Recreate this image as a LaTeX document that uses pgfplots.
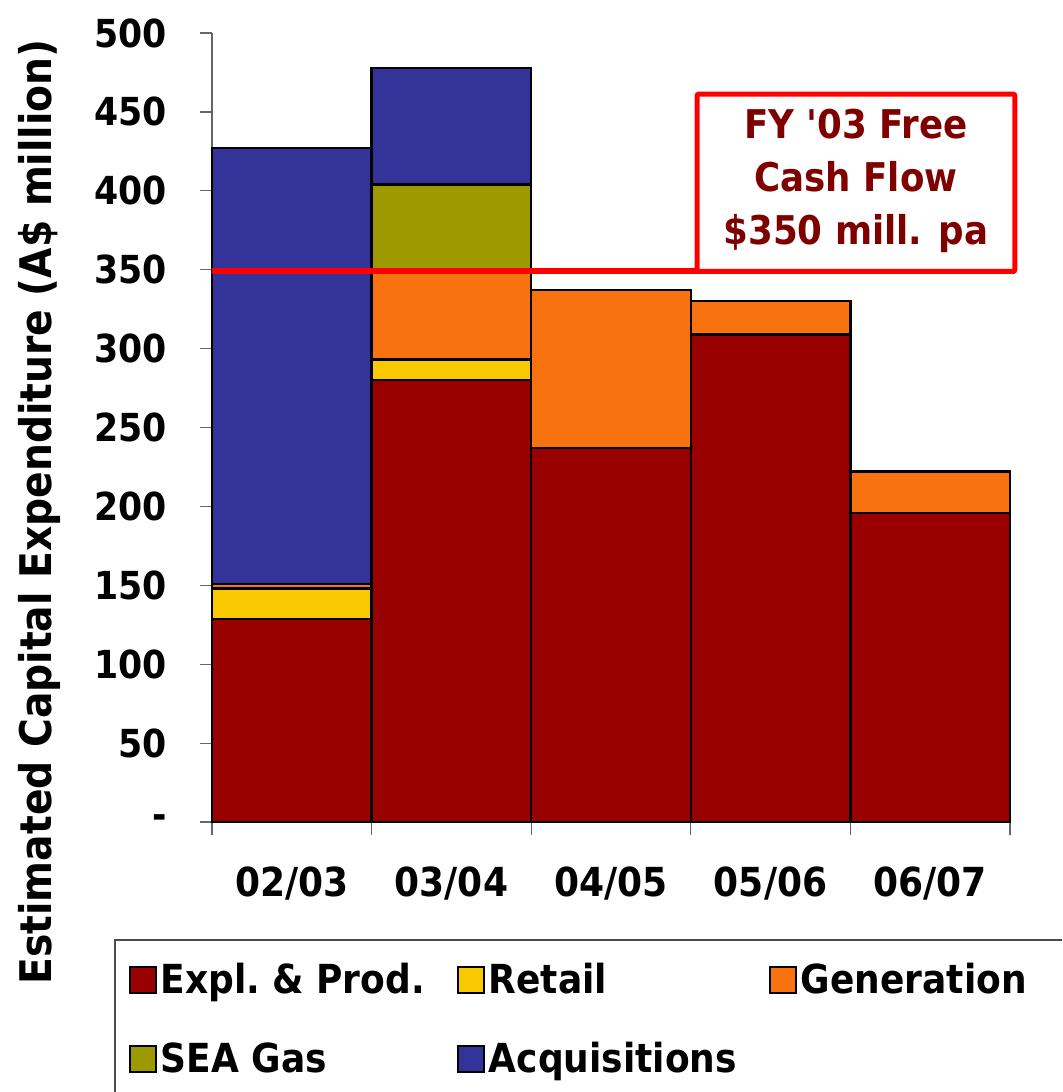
\documentclass[border=0pt]{standalone}
\usepackage{pgfplots}
\pgfplotsset{compat=1.18}
\usepackage{fontspec}
\setmainfont{DejaVu Sans Condensed}
\definecolor{expl}{HTML}{990000}
\definecolor{retail}{HTML}{F8C800}
\definecolor{gen}{HTML}{F87310}
\definecolor{sea}{HTML}{9D9A00}
\definecolor{acq}{HTML}{333399}
\definecolor{boxtext}{HTML}{800000}
\begin{document}
\begin{tikzpicture}
\clip (-106pt,-135pt) rectangle (425pt,411pt);
\fill[white] (-106pt,-135pt) rectangle (425pt,411pt);
\begin{axis}[
  scale only axis,
  width=399pt, height=394.5pt,
  at={(0,0)}, anchor=south west,
  ybar stacked, bar width=1,
  xmin=-0.5, xmax=4.5, ymin=0, ymax=500,
  clip=false,
  axis x line*=bottom, axis y line*=left,
  axis line style={-, black!60, line width=0.8pt},
  xtick={0,1,2,3,4},
  xticklabels={02/03,03/04,04/05,05/06,06/07},
  minor xtick={-0.5,0.5,1.5,2.5,3.5,4.5},
  ytick={0,50,...,500},
  yticklabels={-,50,100,150,200,250,300,350,400,450,500},
  tick align=outside,
  major tick length=6pt,
  minor tick length=6.5pt,
  x tick style={draw=none},
  minor x tick style={draw=black!60, line width=0.6pt},
  y tick style={black!60, line width=0.6pt},
  yticklabel style={font=\bfseries\fontsize{19.3}{21}\selectfont, xshift=-13pt},
  xticklabel style={font=\bfseries\fontsize{20}{24}\selectfont, yshift=-13pt},
  ylabel={Estimated Capital Expenditure (A\$ million)},
  ylabel style={font=\bfseries\fontsize{21.8}{26}\selectfont, at={(axis description cs:-0.216,0.393)}, anchor=center},
  legend columns=3,
  legend cell align=left,
  legend style={at={(axis description cs:-0.105,-0.173)}, anchor=north west, draw=none, fill=none,
    inner sep=0pt, font=\bfseries\fontsize{20}{24}\selectfont,
    /tikz/every even column/.append style={column sep=14pt},
    row sep=19pt},
  legend image code/.code={\draw[#1, draw=black, line width=1pt] (0pt,-6.5pt) rectangle (13pt,6.5pt);},
  every axis plot/.append style={draw=black, line width=1.2pt},
]
\addplot[fill=expl] coordinates {(0,128.5) (1,280) (2,237) (3,309) (4,196)};
\addplot[fill=retail] coordinates {(0,19.5) (1,13) (2,0) (3,0) (4,0)};
\addplot[fill=gen] coordinates {(0,3) (1,55) (2,100) (3,21) (4,26)};
\addplot[fill=sea] coordinates {(0,0) (1,56) (2,0) (3,0) (4,0)};
\addplot[fill=acq] coordinates {(0,276) (1,74) (2,0) (3,0) (4,0)};
\legend{Expl.\ \& Prod.,Retail,Generation,SEA Gas,Acquisitions}
\coordinate (L0) at (axis cs:-0.5,349);
\coordinate (B1) at (axis cs:2.539,349);
\coordinate (B2) at (axis cs:4.531,461.3);
\coordinate (BC) at (axis cs:3.535,406);
\end{axis}
\draw[red, line width=3pt] (L0) -- (B1 |- L0) -- (B2 |- L0);
\draw[red, line width=2.5pt, fill=white, rounded corners=1pt] (B1) rectangle (B2);
\node[align=center, text=boxtext, font=\bfseries\fontsize{19.8}{26.5}\selectfont] at (BC) {FY \textquotesingle 03 Free\\Cash Flow\\\$350 mill. pa};
\draw[black!70, line width=0.7pt] (-48.5pt,-144pt) rectangle (434pt,-59pt);
\end{tikzpicture}
\end{document}
